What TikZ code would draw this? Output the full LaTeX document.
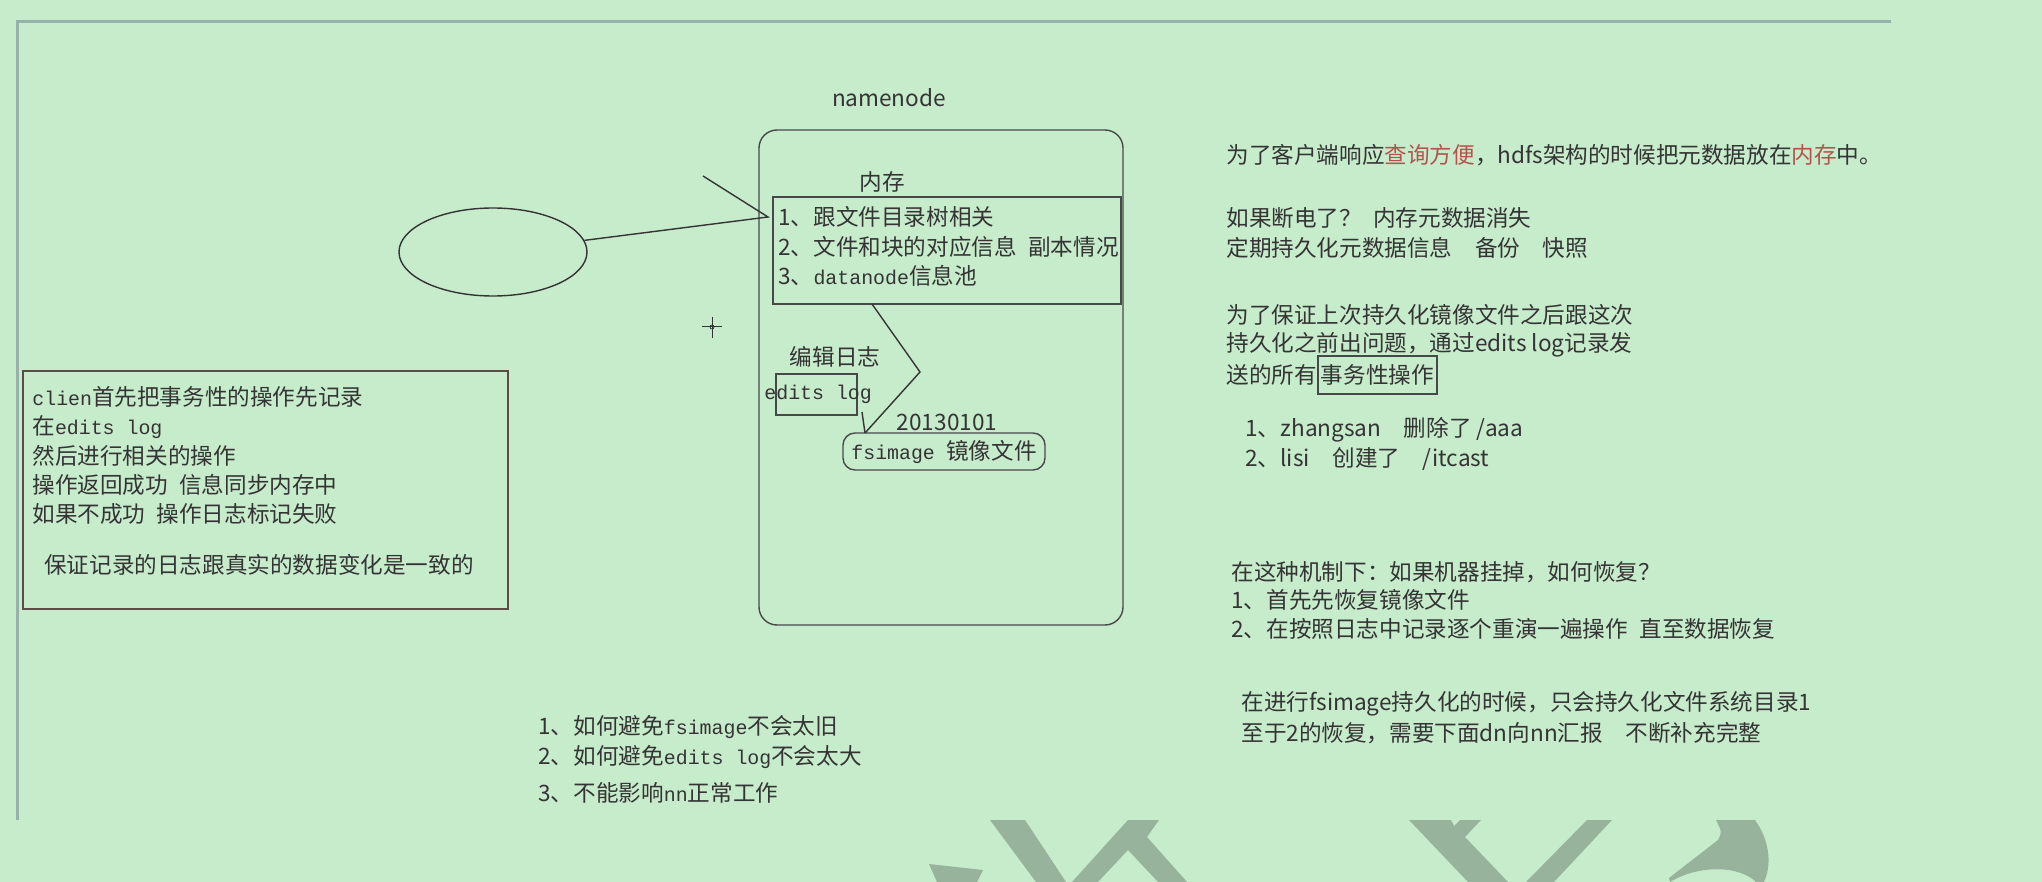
\documentclass[tikz,border=0pt]{standalone}
\usepackage{fontspec}
\setmainfont{Noto Sans CJK SC}
\setmonofont{Liberation Mono}[Scale=0.88]
\usetikzlibrary{positioning,shapes.geometric}
\definecolor{paper}{RGB}{199,236,204}
\definecolor{ink}{RGB}{52,52,52}
\definecolor{hilite}{RGB}{178,84,78}
\definecolor{rim}{RGB}{150,178,170}
\definecolor{clientrim}{RGB}{92,76,70}
\definecolor{stamp}{RGB}{151,179,155}
\newcommand\notesize{\fontsize{11.3}{13}\selectfont}
\newcommand\mono[1]{{\ttfamily #1}}
\tikzset{
  note/.style={anchor=west,inner sep=0pt,font=\notesize,text=ink},
  label note/.style={inner sep=0pt,font=\notesize,text=ink},
  plain box/.style={draw=ink!90,line width=0.7pt,inner sep=0pt},
  sketch line/.style={draw=ink,line width=0.7pt},
  stamp shape/.style={fill=stamp,draw=none}
}

\begin{document}
\begin{tikzpicture}[x=0.5pt,y=-0.5pt]
  \fill[paper] (0,0) rectangle (2042,882);
  \useasboundingbox (0,0) rectangle (2042,882);
  % page frame
  \draw[rim,line width=1.5pt] (17,820) -- (17,22) -- (1891,22);

  % namenode and its parts
  \node[label note] (nnTitle) at (889,98) {namenode};
  \node[plain box,rounded corners=9pt,minimum width=182pt,
    minimum height=247.5pt] (nn) at (941,377.5) {};
  \node[label note] (memTitle) at (882,182) {内存};
  \node[plain box,minimum width=174pt,minimum height=53.5pt] (mem) at (947,250.5) {};
  \node[note] (mem1) at (778,217) {1、跟文件目录树相关};
  \node[note] (mem2) at (778,247) {2、文件和块的对应信息\enspace 副本情况};
  \node[note] (mem3) at (778,276) {3、\mono{datanode}信息池};
  \node[label note] (editTitle) at (835,357) {编辑日志};
  \node[plain box,minimum width=40.5pt,minimum height=20.5pt] (edits) at (816.5,394.5) {};
  \node[note] (editsText) at (764,394) {\mono{edits log}};
  \node[label note] (imgDate) at (947,422) {20130101};
  \node[plain box,rounded corners=6pt,minimum width=101pt,minimum height=18.5pt,
    font=\notesize,text=ink] (fsimg) at (944,451.5) {\mono{fsimage}\enspace 镜像文件};

  % client
  \node[ellipse,draw=ink,line width=0.7pt,minimum width=94pt,minimum height=44pt,
    inner sep=0pt] (client) at (493,252) {};
  \coordinate (pointer) at (768,217);
  \coordinate (pointerTail) at (703,176);
  \draw[sketch line] (client) -- (pointer) -- (pointerTail);

  \coordinate (memFoot) at (872,304);
  \coordinate (logBend) at (920,372);
  \coordinate (imgTop) at (865,433);
  \coordinate (tickTop) at (862,412);
  \draw[sketch line] (memFoot) -- (logBend) -- (imgTop);
  \draw[sketch line] (tickTop) -- (imgTop);

  % cursor mark
  \coordinate (cursor) at (712,327);
  \draw[ink,line width=0.5pt] ([xshift=-5pt]cursor) -- ([xshift=5pt]cursor)
    ([yshift=5pt]cursor) -- ([yshift=-5.5pt]cursor);
  \draw[ink,line width=0.4pt] (cursor) circle (1pt);

  % client log notes
  \node[draw=clientrim,line width=1pt,minimum width=242.5pt,minimum height=119pt,
    inner sep=0pt] (clientLog) at (265.5,490) {};
  \node[note] (log1) at (32,397) {\mono{clien}首先把事务性的操作先记录};
  \node[note] (log2) at (32,427) {在\mono{edits log}};
  \node[note] (log3) at (32,456) {然后进行相关的操作};
  \node[note] (log4) at (32,485) {操作返回成功\enspace 信息同步内存中};
  \node[note] (log5) at (32,514) {如果不成功\enspace 操作日志标记失败};
  \node[note] (log6) at (44,565) {保证记录的日志跟真实的数据变化是一致的};

  % right column
  \node[note] (why) at (1226,155)
    {为了客户端响应\textcolor{hilite}{查询方便}，hdfs架构的时候把元数据放在\textcolor{hilite}{内存}中。};
  \node[note] (power1) at (1226,218) {如果断电了？\enspace 内存元数据消失};
  \node[note] (power2) at (1226,248) {定期持久化元数据信息\quad 备份\quad 快照};
  \node[note] (keep1) at (1226,315) {为了保证上次持久化镜像文件之后跟这次};
  \node[note] (keep2) at (1226,345) {持久化之前出问题，通过edits log记录发};
  \node[note] (keep3) at (1226,375) {送的所有};
  \node[plain box,font=\notesize,text=ink,inner xsep=1.5pt,minimum height=19pt,
    right=0pt of keep3] (txBox) {事务性操作};
  \node[note] (op1) at (1245,430) {1、zhangsan\quad 删除了 /aaa};
  \node[note] (op2) at (1245,459) {2、lisi\quad 创建了\quad /itcast};
  \node[note] (crash) at (1231,572) {在这种机制下：如果机器挂掉，如何恢复？};
  \node[note] (crash1) at (1231,600) {1、首先先恢复镜像文件};
  \node[note] (crash2) at (1231,629) {2、在按照日志中记录逐个重演一遍操作\enspace 直至数据恢复};
  \node[note] (ckpt1) at (1241,704) {在进行fsimage持久化的时候，只会持久化文件系统目录1};
  \node[note] (ckpt2) at (1241,733) {至于2的恢复，需要下面dn向nn汇报\quad 不断补充完整};

  % questions
  \node[note] (ask1) at (538,727) {1、如何避免\mono{fsimage}不会太旧};
  \node[note] (ask2) at (538,757) {2、如何避免\mono{edits log}不会太大};
  \node[note] (ask3) at (538,793) {3、不能影响\mono{nn}正常工作};

  % watermark pieces
  \fill[stamp shape] (929,864) -- (983,870) -- (977,882) -- (937,882) -- cycle;
  \fill[stamp shape] (990,820) -- (1025,820) -- (1066,882) -- (1036,882) -- cycle;
  \fill[stamp shape] (1072,882) -- (1128,820) -- (1159,820) -- (1147,837) -- (1187,882)
    -- (1158,882) -- (1128,850) -- (1098,882) -- cycle;
  \fill[stamp shape] (1409,820) -- (1451,820) -- (1454,826) -- (1460,820) -- (1481,820)
    -- (1465,837) -- (1508,882) -- (1468,882) -- cycle;
  \fill[stamp shape] (1587,820) -- (1612,820) -- (1554,882) -- (1526,882) -- cycle;
  \fill[stamp shape] (1716,820) -- (1755,820) .. controls (1768,838) and (1773,862) .. (1764,882)
    -- (1756,882) .. controls (1740,866) and (1700,864) .. (1670,882) -- (1669,878)
    -- (1718,840) .. controls (1722,832) .. (1716,820) -- cycle;
\end{tikzpicture}
\end{document}
